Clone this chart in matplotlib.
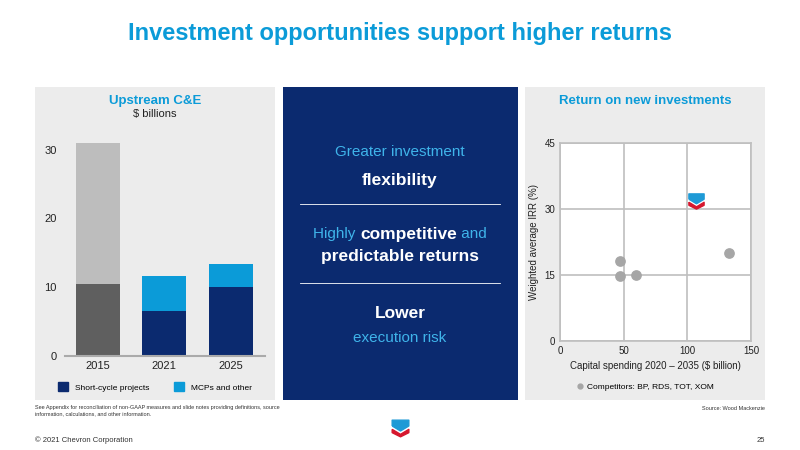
import matplotlib.pyplot as plt
import matplotlib.patches as mpatches
from matplotlib.path import Path

# data
years = ['2015', '2021', '2025']
short_cycle = [10.5, 6.6, 10.0]
mcps_other = [20.5, 5.0, 3.4]
comp_x = [47, 47, 60, 133]
comp_y = [18.2, 14.8, 14.9, 20.0]
cvx_x, cvx_y = 107, 31.5

CYAN = '#0b9bd8'
NAVY = '#0b2a6f'
LBLUE = '#3fb4ea'
BG = '#ececec'

plt.rcParams['font.family'] = ['Liberation Sans', 'DejaVu Sans']
fig = plt.figure(figsize=(8, 4.5), dpi=100)
fig.patch.set_facecolor('white')

def px(x0, y0, x1, y1):
    return [x0 / 800, 1 - y1 / 450, (x1 - x0) / 800, (y1 - y0) / 450]

fig.text(0.5, 0.925, 'Investment opportunities support higher returns', color=CYAN,
         fontsize=17, fontweight='bold', ha='center', va='center')

# panel backgrounds
for box, col in [((35, 87, 275, 400), BG), ((283, 87, 518, 400), NAVY), ((525, 87, 765, 400), BG)]:
    fig.patches.append(mpatches.Rectangle((box[0] / 800, 1 - box[3] / 450), (box[2] - box[0]) / 800,
                                          (box[3] - box[1]) / 450, transform=fig.transFigure,
                                          facecolor=col, edgecolor='none', zorder=-5))

# left bar chart
ax = fig.add_axes(px(65, 129, 265, 356))
ax.set_zorder(2)
ax.set_facecolor(BG)
xs = range(len(years))
base_cols = ['#5f5f5f', NAVY, NAVY]
top_cols = ['#bdbdbd', CYAN, CYAN]
ax.bar(xs, short_cycle, width=0.66, color=base_cols)
ax.bar(xs, mcps_other, bottom=short_cycle, width=0.66, color=top_cols)
ax.set_ylim(0, 33)
ax.set_xlim(-0.49, 2.51)
ax.set_yticks([0, 10, 20, 30])
ax.set_xticks(list(xs))
ax.set_xticklabels(years)
for s in ['top', 'right', 'left']:
    ax.spines[s].set_visible(False)
ax.spines['bottom'].set_color('#aaaaaa')
ax.spines['bottom'].set_linewidth(1.5)
ax.tick_params(length=0, labelsize=8, colors='#222222')
ax.tick_params(axis='y', pad=6)
fig.text(155 / 800, 1 - 101 / 450, 'Upstream C&E', color=CYAN, fontsize=9.5, fontweight='bold', ha='center', va='center')
fig.text(155 / 800, 1 - 114 / 450, '$ billions', color='#222222', fontsize=8, ha='center', va='center')
handles = [mpatches.Patch(color=NAVY, label='Short-cycle projects'), mpatches.Patch(color=CYAN, label='MCPs and other')]
fig.legend(handles=handles, loc='center', bbox_to_anchor=(155 / 800, 1 - 387 / 450), ncol=2, frameon=False,
           fontsize=6, handlelength=1.2, handleheight=1.2, columnspacing=3)
fig.text(35 / 800, 1 - 405 / 450, 'See Appendix for reconciliation of non-GAAP measures and slide notes providing definitions, source\ninformation, calculations, and other information.',
         fontsize=4, color='#333333', va='top', linespacing=1.3)

# middle text
mx = 400 / 800
fig.text(mx, 1 - 152 / 450, 'Greater investment', color=LBLUE, fontsize=11, ha='center', va='center')
fig.text(mx, 1 - 180 / 450, 'flexibility', color='white', fontsize=12.5, fontweight='bold', ha='center', va='center')
fig.lines.append(plt.Line2D([300 / 800, 500 / 800], [1 - 204 / 450] * 2, color='white', lw=0.6, transform=fig.transFigure))
y_line = 1 - 234 / 450
t1 = fig.text(0, y_line, 'Highly ', color=LBLUE, fontsize=11, va='center')
t2 = fig.text(0, y_line, 'competitive', color='white', fontsize=12.5, fontweight='bold', va='center')
t3 = fig.text(0, y_line, ' and', color=LBLUE, fontsize=11, va='center')
r = fig.canvas.get_renderer()
ws = [t.get_window_extent(r).width / 800 for t in (t1, t2, t3)]
x0 = mx - sum(ws) / 2
for t, w in zip((t1, t2, t3), ws):
    t.set_x(x0)
    x0 += w
fig.text(mx, 1 - 257 / 450, 'predictable returns', color='white', fontsize=12.5, fontweight='bold', ha='center', va='center')
fig.lines.append(plt.Line2D([300 / 800, 500 / 800], [1 - 283 / 450] * 2, color='white', lw=0.6, transform=fig.transFigure))
fig.text(mx, 1 - 313 / 450, 'Lower', color='white', fontsize=12.5, fontweight='bold', ha='center', va='center')
fig.text(mx, 1 - 338 / 450, 'execution risk', color=LBLUE, fontsize=11, ha='center', va='center')

# right scatter
ax2 = fig.add_axes(px(560, 143, 751, 341))
ax2.set_zorder(2)
ax2.set_facecolor('white')
ax2.scatter(comp_x, comp_y, s=45, color='#a6a6a6', zorder=3)
top = Path([(-1, 0.3), (0, -0.3), (1, 0.3), (1, 1), (-1, 1), (-1, 0.3)])
bot = Path([(-1, -0.1), (0, -0.7), (1, -0.1), (1, -0.5), (0, -1), (-1, -0.5), (-1, -0.1)])
ax2.scatter([cvx_x], [cvx_y + 0.4], marker=top, s=120, color='#1e9ad6', zorder=4)
ax2.scatter([cvx_x], [cvx_y + 0.4], marker=bot, s=120, color='#d6172e', zorder=4)
ax2.set_xlim(0, 150)
ax2.set_ylim(0, 45)
ax2.set_xticks([0, 50, 100, 150])
ax2.set_yticks([0, 15, 30, 45])
ax2.grid(color='#bfbfbf', lw=1.2)
ax2.set_axisbelow(True)
for s in ax2.spines.values():
    s.set_color('#bfbfbf')
    s.set_linewidth(1.2)
ax2.tick_params(length=0, labelsize=7, colors='#222222')
ax2.set_xlabel('Capital spending 2020 – 2035 ($ billion)', fontsize=7, color='#222222')
ax2.set_ylabel('Weighted average IRR (%)', fontsize=7, color='#222222')
fig.text(645 / 800, 1 - 101 / 450, 'Return on new investments', color=CYAN, fontsize=9.5, fontweight='bold', ha='center', va='center')
fig.legend(handles=[plt.Line2D([], [], marker='o', ls='', color='#a6a6a6', ms=3.5,
                               label='Competitors: BP, RDS, TOT, XOM')],
           loc='center', bbox_to_anchor=(645 / 800, 1 - 387 / 450), frameon=False, fontsize=6,
           handlelength=0.8, handletextpad=0.4)
fig.text(765 / 800, 1 - 408 / 450, 'Source: Wood Mackenzie', fontsize=4, color='#333333', ha='right', va='center')

# footer
fig.text(35 / 800, 1 - 440 / 450, '© 2021 Chevron Corporation', fontsize=5.5, color='#333333', va='center')
fig.text(765 / 800, 1 - 440 / 450, '25', fontsize=5.5, color='#333333', ha='right', va='center')
fig.lines.append(plt.Line2D([400 / 800], [1 - 428 / 450], marker=top, ms=12, color='#1e9ad6', transform=fig.transFigure))
fig.lines.append(plt.Line2D([400 / 800], [1 - 428 / 450], marker=bot, ms=12, color='#d6172e', transform=fig.transFigure))

fig.savefig('out.png', dpi=100)
